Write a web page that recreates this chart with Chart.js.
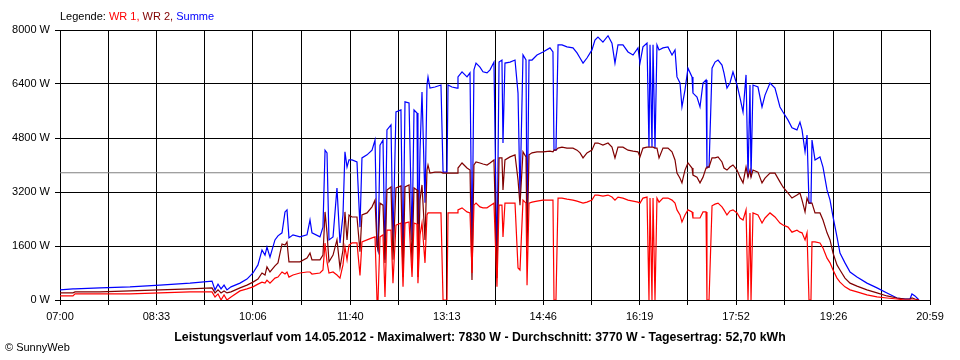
<!DOCTYPE html>
<html><head><meta charset="utf-8">
<script src="https://cdn.jsdelivr.net/npm/chart.js@4.4.1/dist/chart.umd.min.js"></script>
<style>
html,body{margin:0;padding:0;background:#fff;}
#wrap{position:relative;width:960px;height:360px;overflow:hidden;}
#c{position:absolute;left:0;top:0;}
.txt{position:absolute;font-family:"Liberation Sans",Arial,sans-serif;font-size:11px;white-space:nowrap;line-height:13px;color:#000;}
</style></head><body>
<div id="wrap">
<canvas id="c" width="960" height="360"></canvas>
<div class="txt" style="left:60px;top:10px;">Legende: <span style="color:#ff0000">WR 1,</span> <span style="color:#800000">WR 2,</span> <span style="color:#0000ff">Summe</span></div>
<div class="txt" style="left:0;width:960px;text-align:center;top:331px;font-weight:bold;font-size:12.3px;">Leistungsverlauf vom 14.05.2012 - Maximalwert: 7830 W - Durchschnitt: 3770 W - Tagesertrag: 52,70 kWh</div>
<div class="txt" style="left:5px;top:341px;">© SunnyWeb</div>
</div>
<script>
// x tick labels (clock time), average power from the caption
const tickLabels = ['07:00','08:33','10:06','11:40','13:13','14:46','16:19','17:52','19:26','20:59'];
const averageW = 3770;
const yMax = 8000, yStep = 1600;

// sample times, minutes after 07:00
const minutes = [0,12.5,14.5,38.6,67.5,96.4,125.4,146.6,149.5,152.4,
155.3,158.2,161.0,164.9,173.6,180.3,186.1,190.9,194.8,197.7,
199.6,202.5,207.3,210.2,214.1,217.0,218.9,220.8,224.7,231.4,
238.2,241.1,243.0,250.7,253.6,255.6,257.5,259.4,263.3,267.1,
270.0,272.9,274.8,276.8,278.7,281.6,286.4,289.3,291.2,296.1,
300.9,303.8,305.7,306.7,308.6,311.5,313.4,315.3,319.2,321.1,
324.0,328.8,330.8,332.7,336.6,339.5,341.4,344.3,345.2,347.2,
349.1,352.0,353.9,354.9,356.8,361.6,367.4,369.4,373.2,374.2,
378.0,382.9,383.8,387.7,392.5,395.4,397.3,399.2,401.2,405.0,
407.9,411.8,414.7,418.5,421.4,423.4,426.2,427.2,429.1,434.0,
438.8,441.7,443.6,446.5,449.4,450.4,452.3,455.2,460.0,465.8,
472.5,475.4,476.4,478.3,480.3,484.1,488.9,494.7,498.6,501.5,
504.4,508.2,513.0,515.9,518.8,523.6,528.5,532.3,535.2,538.1,
542.9,547.8,552.6,557.4,559.3,562.2,566.1,568.0,569.0,570.9,
571.9,573.8,575.7,577.7,581.5,586.3,590.2,593.1,595.0,597.9,
599.8,602.7,605.6,609.5,610.4,614.3,617.2,620.1,623.0,623.9,
625.9,628.8,631.7,634.6,638.4,640.3,643.2,646.1,649.0,652.9,
655.8,658.7,661.6,663.5,665.4,666.4,668.3,673.1,677.0,679.9,
684.7,689.5,694.3,697.2,702.1,705.9,710.7,713.6,715.6,718.5,
720.4,722.3,724.2,725.2,728.1,732.9,735.8,739.7,742.6,745.5,
749.3,752.2,757.0,761.9,768.6,778.2,787.9,797.5,807.2,814.9,
819.7,821.6,824.5,828.4];

// Summe (W)
const summe = [300,330,330,360,390,440,500,560,300,470,
330,440,300,390,500,620,800,1040,1480,1330,
1570,1270,1780,1900,1990,2610,2670,1840,1930,1870,
1930,2370,1990,1870,2160,4440,4360,1780,1870,3320,
1690,2520,4390,3940,4150,4150,4090,2160,4210,4300,
4440,4740,1630,1480,4590,4740,1190,5040,5190,1690,
5570,5630,1070,5870,5840,1780,5630,5540,1180,4440,
6160,2880,6370,6610,6280,6310,6370,3790,3790,6370,
6310,6280,6610,6760,6610,6730,1390,6820,7020,6900,
6760,6730,6820,7050,1040,7050,7110,4650,7020,7050,
7110,6130,3050,7260,7110,1990,7110,7110,7260,7350,
7470,7350,4440,4440,7560,7560,7500,7470,7320,7170,
7020,7170,7410,7700,7790,7640,7830,7610,7020,7560,
7560,7350,7260,7470,7020,7500,7610,4530,7560,4530,
7560,4500,7560,7410,7470,7500,7260,7410,6610,6430,
5720,6220,6870,6610,6130,6010,5720,6430,6520,3940,
3940,6870,7050,7110,6960,6730,6280,6430,6760,6370,
5990,5570,6670,3640,6370,3640,6370,6310,5720,6070,
6430,6280,5720,5570,5330,5100,5040,5270,5040,4390,
4890,2870,2870,4740,4150,4240,3940,3260,2960,2460,
1870,1390,1100,830,680,500,360,210,60,30,
30,180,120,0];

// WR 2 (W)
const wr2 = [210,210,240,240,270,300,330,360,210,300,
210,270,210,240,360,440,530,620,800,740,
980,830,1010,1100,1660,1630,1720,1130,1130,1130,
1240,1390,1190,1190,1330,2610,1990,1130,1330,1780,
950,1480,2610,1780,2520,2460,2460,1430,2520,2580,
2760,2960,1630,1480,2870,2810,1100,3260,3350,1190,
3320,3380,680,3350,3410,1100,3320,3260,680,2960,
3410,1780,3850,4000,3760,3790,3790,3760,3760,3760,
3760,3760,3910,4060,3910,3850,590,4000,4090,4060,
4030,4000,4060,4150,650,4210,4210,3260,4150,4240,
4300,3560,2810,4390,4240,1570,4300,4360,4390,4390,
4410,4390,4440,4440,4500,4530,4500,4500,4440,4360,
4210,4360,4440,4650,4650,4590,4650,4530,4210,4530,
4530,4440,4410,4390,4240,4500,4530,4530,4530,4530,
4530,4500,4500,4210,4500,4500,4390,4150,3760,3610,
3470,3850,4060,3910,3700,3640,3470,3640,3910,3940,
3940,4210,4210,4240,4090,3910,3850,3940,4000,3850,
3640,3470,3940,3640,3850,3640,3850,3790,3470,3610,
3760,3760,3500,3350,3170,3020,3110,3170,2960,2610,
3020,2870,2870,2870,2580,2580,2370,1990,1780,1390,
1040,890,650,500,410,300,210,120,60,30,
30,60,30,0];

// WR 1 (W)
const wr1 = [120,120,180,180,180,210,240,240,90,180,
0,150,0,90,270,330,390,470,530,500,
590,500,650,680,830,770,830,680,740,800,
830,830,770,800,890,1690,1130,800,830,740,
650,1040,1570,1190,1630,1690,1690,730,1720,1780,
1840,1870,0,0,1870,1930,90,2070,2070,500,
2220,2280,390,2280,2310,680,2280,2250,500,1930,
2280,1100,2520,2580,2580,2580,2580,0,0,2580,
2580,2580,2670,2730,2610,2580,800,2810,2870,2760,
2730,2730,2790,2870,390,2810,2810,1870,2870,2870,
2870,950,890,2960,2870,440,2870,2900,2930,2960,
2960,2960,0,0,3020,3020,2990,2960,2930,2900,
2870,2900,2960,3110,3110,3080,3110,3050,2960,3050,
3020,2960,2930,2900,2870,3020,3050,0,3020,0,
3020,0,3020,2900,3020,3020,2960,2870,2670,2520,
2310,2520,2670,2610,2430,2430,2430,2610,2610,0,
0,2790,2840,2870,2760,2670,2520,2640,2670,2580,
2430,2370,2670,0,2580,0,2580,2520,2280,2430,
2580,2460,2280,2220,2160,2010,2070,2010,1990,1780,
1990,0,0,1720,1720,1690,1540,1240,1100,890,
650,530,390,300,240,150,90,60,30,0,
0,0,0,0];

function toMin(s){ const p = s.split(':').map(Number); return (p[0]-7)*60 + p[1]; }
const labelMins = tickLabels.map(toMin);
const gridMins = [];
labelMins.forEach((m,i) => { gridMins.push(m); if (i < labelMins.length-1) gridMins.push((m + labelMins[i+1]) / 2); });
const xMax = labelMins[labelMins.length-1];

const pts = arr => minutes.map((m,i) => ({x:m, y:arr[i]}));

Chart.defaults.font.family = '"Liberation Sans", Arial, sans-serif';
Chart.defaults.font.size = 11;
Chart.defaults.color = '#000';

new Chart(document.getElementById('c'), {
  type: 'line',
  data: {
    datasets: [
      {label:'WR 1', data: pts(wr1), borderColor:'#ff0000', borderWidth:1.2, pointRadius:0, tension:0, order:1},
      {label:'WR 2', data: pts(wr2), borderColor:'#800000', borderWidth:1.2, pointRadius:0, tension:0, order:2},
      {label:'Summe', data: pts(summe), borderColor:'#0000ff', borderWidth:1.2, pointRadius:0, tension:0, order:3},
      {label:'Durchschnitt', data: [{x:0,y:averageW},{x:xMax,y:averageW}], borderColor:'#808080', borderWidth:1, pointRadius:0, order:4}
    ]
  },
  options: {
    responsive:false, animation:false, devicePixelRatio:1,
    layout:{padding:{left:0, right:30, top:30, bottom:0}},
    plugins:{legend:{display:false}, tooltip:{enabled:false}, title:{display:false}},
    scales:{
      x:{
        type:'linear', min:0, max:xMax,
        afterBuildTicks: s => { s.ticks = gridMins.map(v => ({value:v})); },
        afterFit: s => { s.height = 60; },
        grid:{color:'#000', lineWidth:1, tickLength:5, drawTicks:true},
        border:{color:'#000', width:1},
        ticks:{autoSkip:false, maxRotation:0, minRotation:0, padding:5, color:'#000',
          callback: v => { const i = labelMins.indexOf(v); return i >= 0 ? tickLabels[i] : ''; }}
      },
      y:{
        min:0, max:yMax,
        afterFit: s => { s.width = 60; },
        grid:{color:'#000', lineWidth:1, tickLength:5, drawTicks:true},
        border:{color:'#000', width:1},
        ticks:{stepSize:yStep, padding:5, color:'#000', callback: v => v + ' W'}
      }
    }
  }
});
</script>
</body></html>
